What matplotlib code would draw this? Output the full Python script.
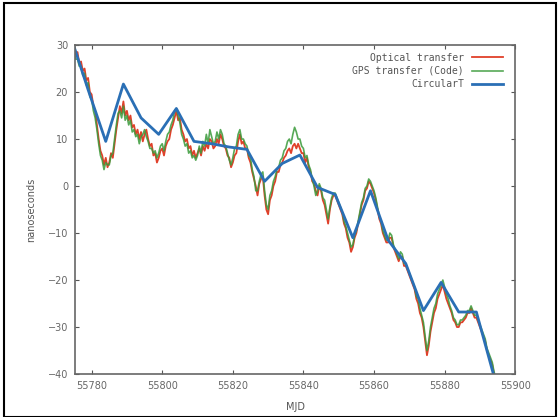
import numpy as np
import matplotlib.pyplot as plt
from matplotlib.patches import Rectangle

# half-day samples, starting at MJD 55775.0
mjd_start = 55775.0
step = 0.5

optical = [
    29.5, 28, 28.5, 26, 26.5, 24.5, 25, 22.5, 23, 20,
    19.5, 17, 16, 13, 10, 7.5, 6.5, 4.5, 6, 4,
    5, 7, 6, 9, 12, 14.5, 17, 15.5, 18, 15,
    16, 14, 15, 12.5, 13, 11, 12, 10, 11.5, 9.5,
    11, 12, 10, 8.5, 9, 6.5, 7, 5, 6, 7.5,
    8, 6.5, 8.5, 9.5, 10, 12, 13, 14.5, 16, 14,
    14.5, 12, 11, 9.5, 10, 8, 8.5, 6.5, 7.5, 6,
    7, 8, 6.5, 8.5, 7.5, 9, 8, 10, 9.5, 8,
    8.5, 10, 9, 11, 10, 8.5, 8, 6.5, 6, 4,
    5, 6.5, 7, 9.5, 11, 9, 9.5, 8, 8, 6,
    5, 3, 1.5, 0, -2, 0.5, 1.5, 2, -2, -5,
    -6, -3, -2, 0, 1, 3, 3, 4.5, 5, 6,
    6.5, 7.5, 8, 7, 8.5, 9, 8, 9, 8, 7,
    7, 5, 6, 4, 3, 1, 0.5, -1, -2, 0,
    -1, -3, -4, -6, -8, -5, -3, -2, -2, -3,
    -4, -5, -6, -8, -9, -11, -12, -14, -13, -11,
    -10, -8, -6, -4, -3, -1, -0.5, 1, 0.5, -0.5,
    -1.5, -3, -5, -7, -8, -10, -11, -12, -12, -11,
    -11, -13, -14, -15, -16, -15, -15, -17, -17, -18,
    -19, -20, -21, -22, -24, -25, -27, -28, -30, -33,
    -36, -34, -31, -29, -27, -26, -24, -23, -22, -21,
    -22.5, -24, -25, -26, -27, -28.5, -29, -30, -30, -29,
    -29, -28.5, -28, -27, -27, -26, -27, -28, -28, -29,
    -30, -31, -32, -33, -35, -36, -37, -38, -40, -41,
]

gps_code = [
    28.5, 27, 27, 25.5, 25.5, 23.5, 24, 21.5, 22, 19,
    18.5, 16, 14.5, 12, 9, 6.5, 5.5, 3.5, 5, 4.5,
    4.5, 6.5, 7, 10, 13, 15.5, 16, 14.5, 17, 14,
    15, 13, 14, 11.5, 12, 10.5, 11, 9, 10.5, 11,
    12, 10.5, 9.5, 8, 8, 7, 7.5, 6, 7, 8.5,
    9, 7.5, 9.5, 11, 11.5, 13, 14, 16, 16.5, 15,
    13.5, 11, 10, 8.5, 9, 7, 7.5, 6, 6.5, 5.5,
    6.5, 8.5, 7, 9.5, 8.5, 11, 9, 12, 10.5, 9,
    9.5, 11.5, 10, 12, 11, 9, 8.5, 7, 5.5, 4.5,
    6, 8, 8.5, 11, 12, 10, 10, 9, 8.5, 6.5,
    6, 3.5, 2, -1, -1, 1, 2.5, 3, -1, -4,
    -5, -2, -1, 1, 2, 3.5, 4, 5.5, 6, 7.5,
    8, 9.5, 10, 9, 11, 12.5, 11.5, 10, 10, 8.5,
    8, 6, 6.5, 4.5, 3.5, 1.5, 0, -2, -1, 0.5,
    -0.5, -2.5, -3, -5, -7, -4.5, -2.5, -1.5, -1.5, -2.5,
    -3.5, -4.5, -5.5, -7.5, -8.5, -10, -11.5, -13, -12.5, -10.5,
    -9.5, -7.5, -5.5, -3.5, -2.5, -0.5, 0, 1.5, 1, 0,
    -1, -2.5, -4.5, -6.5, -7.5, -9.5, -10.5, -11.5, -11.5, -10,
    -10.5, -12.5, -13.5, -14.5, -15.5, -14, -14.5, -16.5, -16.5, -17.5,
    -18.5, -19.5, -20.5, -21.5, -23.5, -24, -26, -27.5, -29, -32,
    -35, -33, -30, -28, -26, -25, -23, -22, -21, -20,
    -21.5, -23, -24, -25.5, -26.5, -28, -28.5, -29.5, -29.5, -28.5,
    -28.5, -28, -27.5, -26.5, -26.5, -25.5, -26.5, -27.5, -27.5, -28.5,
    -29.5, -30.5, -31.5, -32.5, -34.5, -35.5, -36.5, -37.5, -39.5, -41,
]

# CircularT, 5-day points
circt_mjd = [55774, 55779, 55784, 55789, 55794, 55799, 55804, 55809, 55814,
             55819, 55824, 55829, 55834, 55839, 55844, 55849, 55854, 55859,
             55864, 55869, 55874, 55879, 55884, 55889, 55894]
circt_ns = [32, 20.5, 9.5, 21.7, 14.5, 11, 16.5, 9.5, 9, 8.3, 7.8, 1, 4.8,
            6.6, -0.3, -1.8, -11, -1, -11.5, -16.5, -26.5, -20.5, -26.8,
            -26.8, -40.5]

mjd = mjd_start + step * np.arange(len(optical))

fig = plt.figure(figsize=(5.6, 4.17), dpi=100)
ax = fig.add_axes([0.134, 0.103, 0.786, 0.789])

ax.plot(mjd, optical, color='#e0402a', lw=1.3, label='Optical transfer')
ax.plot(mjd, gps_code, color='#3a9a3a', lw=1.2, alpha=0.85, label='GPS transfer (Code)')
ax.plot(circt_mjd, circt_ns, color='#2a6fb5', lw=2.0, label='CircularT')

ax.set_xlim(55775.3, 55900)
ax.set_ylim(-40, 30)
ax.set_xticks(np.arange(55780, 55901, 20))
ax.set_yticks(np.arange(-40, 31, 10))
ax.tick_params(direction='in', top=True, right=True, length=3, width=0.8,
               labelsize=7, colors='#555555', labelcolor='#666666', pad=5)
for s in ax.spines.values():
    s.set_color('#666666')
    s.set_linewidth(1.2)

ax.set_xlabel('MJD', fontsize=7, color='#555555', labelpad=8)
ax.set_ylabel('nanoseconds', fontsize=7, color='#555555', labelpad=8)

leg = ax.legend(loc='upper right', frameon=False, markerfirst=False,
                prop={'family': 'DejaVu Sans Mono', 'size': 7},
                handlelength=3.2, labelspacing=0.35, borderaxespad=0.2,
                bbox_to_anchor=(0.985, 0.995))
for t in leg.get_texts():
    t.set_color('#555555')

# thin black frame around the whole picture
fig.patches.append(Rectangle((0.008, 0.0), 0.984, 0.993, transform=fig.transFigure,
                             fill=False, edgecolor='black', lw=1.5))

fig.savefig('out.png', dpi=100)
